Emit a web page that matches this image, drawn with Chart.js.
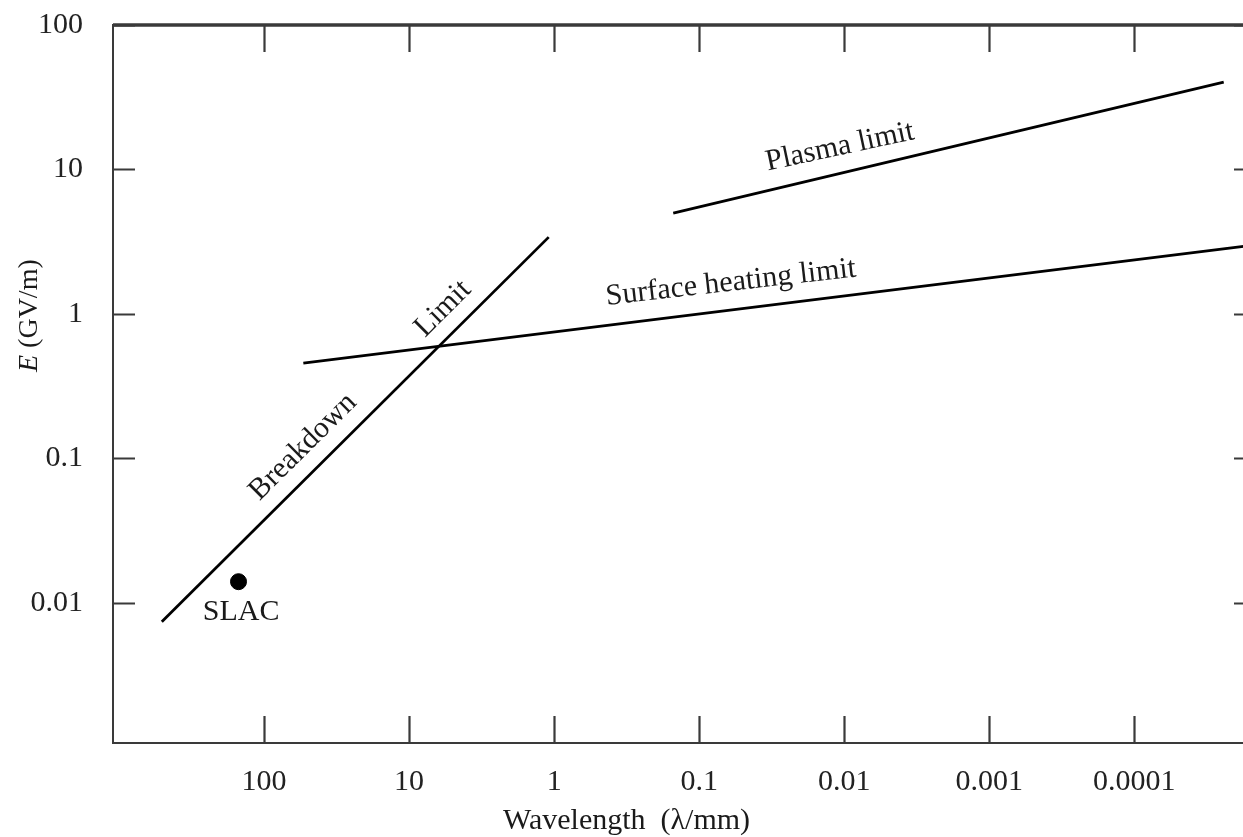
<!DOCTYPE html>
<html>
<head>
<meta charset="utf-8">
<script src="https://cdn.jsdelivr.net/npm/chart.js@4/dist/chart.umd.min.js"></script>
<style>
  html, body { margin: 0; padding: 0; overflow: hidden; background: #fff; width: 1243px; height: 837px; }
  #wrap { position: absolute; left: 0; top: 0; width: 1270px; height: 837px; }
  canvas { display: block; }
</style>
</head>
<body>
<div id="wrap"><canvas id="c" width="1270" height="837"></canvas></div>
<script>
// ---- data (wavelength in mm, field in GV/m) ----
const breakdownLambda = [507, 1.09];
const breakdownE = [0.0074, 3.4];
const surfaceLambda = [53.6, 1.46e-5];
const surfaceE = [0.456, 3.0];
const plasmaLambda = [0.151, 2.42e-5];
const plasmaE = [4.98, 40.3];
const slacLambda = [150];
const slacE = [0.014];

const xTickValues = [100, 10, 1, 0.1, 0.01, 0.001, 0.0001];
const xTickLabels = ['100', '10', '1', '0.1', '0.01', '0.001', '0.0001'];
const yTickValues = [100, 10, 1, 0.1, 0.01];
const yTickLabels = ['100', '10', '1', '0.1', '0.01'];

const xRange = [1.45e-5, 1100];
const yRange = [0.00107, 100];

const labelTexts = ['Breakdown', 'Limit', 'Surface heating limit', 'Plasma limit', 'SLAC'];
const labelLambda = [53.9, 5.84, 0.0604, 0.0107, 144];
const labelE = [0.120, 1.083, 1.64, 14.3, 0.00867];

function pts(xs, ys) { return xs.map((x, i) => ({ x: x, y: ys[i] })); }

const SERIF = '"Liberation Serif", "DejaVu Serif", serif';
const INK = '#1a1a1a';

const annotations = {
  id: 'annotations',
  afterDatasetsDraw(chart) {
    const ctx = chart.ctx;
    const xs = chart.scales.x, ys = chart.scales.y;
    const angles = [-44.8, -44.8, -6.5, -12, 0];
    ctx.save();
    ctx.fillStyle = INK;
    ctx.font = '30px ' + SERIF;
    ctx.textAlign = 'center';
    ctx.textBaseline = 'middle';
    labelTexts.forEach((t, i) => {
      const px = xs.getPixelForValue(labelLambda[i]);
      const py = ys.getPixelForValue(labelE[i]);
      ctx.save();
      ctx.translate(px, py);
      ctx.rotate(angles[i] * Math.PI / 180);
      ctx.fillText(t, 0, 0);
      ctx.restore();
    });
    ctx.restore();
  }
};

const frame = {
  id: 'frame',
  afterDraw(chart) {
    const ctx = chart.ctx;
    const a = chart.chartArea;
    const xs = chart.scales.x, ys = chart.scales.y;
    ctx.save();
    ctx.strokeStyle = '#3a3a3a';
    ctx.lineWidth = 2;
    ctx.strokeRect(a.left, a.top, a.right - a.left, a.bottom - a.top);
    // heavier top border as in the reference
    ctx.lineWidth = 3.5;
    ctx.beginPath();
    ctx.moveTo(a.left, a.top); ctx.lineTo(a.right, a.top);
    ctx.stroke();
    // inward tick marks
    ctx.lineWidth = 2.2;
    ctx.beginPath();
    xTickValues.forEach(v => {
      const p = Math.round(xs.getPixelForValue(v)) + 0.5;
      ctx.moveTo(p, a.bottom); ctx.lineTo(p, a.bottom - 27);
      ctx.moveTo(p, a.top); ctx.lineTo(p, a.top + 27);
    });
    yTickValues.forEach(v => {
      const p = Math.round(ys.getPixelForValue(v)) + 0.5;
      ctx.moveTo(a.left, p); ctx.lineTo(a.left + 22, p);
      ctx.moveTo(a.right, p); ctx.lineTo(a.right - 22, p);
    });
    ctx.stroke();

    // axis titles
    ctx.fillStyle = INK;
    ctx.textBaseline = 'alphabetic';
    ctx.textAlign = 'left';
    ctx.font = '30px ' + SERIF;
    ctx.fillText('Wavelength  (\u03bb/mm)', 503, 829);

    ctx.save();
    ctx.translate(37, 372);
    ctx.rotate(-Math.PI / 2);
    ctx.font = 'italic 28px ' + SERIF;
    ctx.fillText('E', 0, 0);
    const w = ctx.measureText('E').width;
    ctx.font = '28px ' + SERIF;
    ctx.fillText(' (GV/m)', w, 0);
    ctx.restore();
    ctx.restore();
  }
};

const lineStyle = { showLine: true, borderColor: '#000', borderWidth: 2.8, pointRadius: 0, pointHoverRadius: 0, fill: false };

new Chart(document.getElementById('c'), {
  type: 'scatter',
  data: {
    datasets: [
      Object.assign({ label: 'Breakdown limit', data: pts(breakdownLambda, breakdownE) }, lineStyle),
      Object.assign({ label: 'Surface heating limit', data: pts(surfaceLambda, surfaceE) }, lineStyle),
      Object.assign({ label: 'Plasma limit', data: pts(plasmaLambda, plasmaE) }, lineStyle),
      { label: 'SLAC', data: pts(slacLambda, slacE), pointRadius: 8, pointBackgroundColor: '#000', pointBorderColor: '#000', showLine: false }
    ]
  },
  options: {
    responsive: false,
    animation: false,
    devicePixelRatio: 1,
    layout: { padding: { top: 25, right: 14, bottom: 0, left: 0 } },
    plugins: { legend: { display: false }, tooltip: { enabled: false } },
    scales: {
      x: {
        type: 'logarithmic',
        reverse: true,
        min: xRange[0],
        max: xRange[1],
        grid: { display: false, drawTicks: false },
        border: { display: false },
        afterBuildTicks: s => { s.ticks = xTickValues.map(v => ({ value: v })); },
        afterFit: s => { s.height = 94; s.paddingLeft = 0; s.paddingRight = 0; },
        ticks: {
          autoSkip: false,
          maxRotation: 0,
          padding: 21,
          color: '#222',
          font: { family: SERIF, size: 30 },
          callback: v => { const i = xTickValues.indexOf(v); return i >= 0 ? xTickLabels[i] : ''; }
        }
      },
      y: {
        type: 'logarithmic',
        min: yRange[0],
        max: yRange[1],
        grid: { display: false, drawTicks: false },
        border: { display: false },
        afterBuildTicks: s => { s.ticks = yTickValues.map(v => ({ value: v })); },
        afterFit: s => { s.width = 113; s.paddingTop = 0; s.paddingBottom = 0; },
        ticks: {
          autoSkip: false,
          padding: 30,
          color: '#222',
          font: { family: SERIF, size: 30 },
          callback: v => { const i = yTickValues.indexOf(v); return i >= 0 ? yTickLabels[i] : ''; }
        }
      }
    }
  },
  plugins: [annotations, frame]
});
</script>
</body>
</html>
